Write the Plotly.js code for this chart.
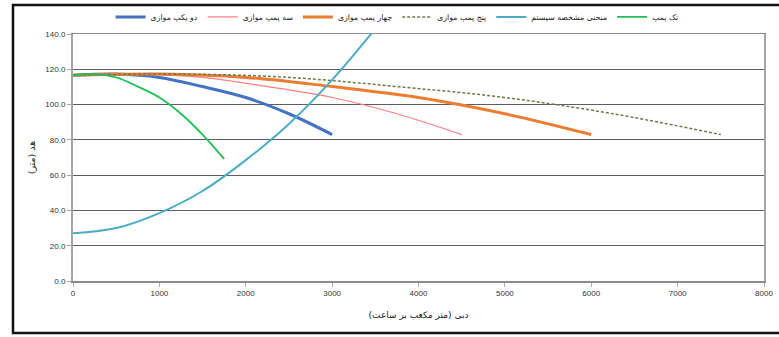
<!DOCTYPE html>
<html>
<head>
<meta charset="utf-8">
<script src="https://cdn.plot.ly/plotly-3.0.1.min.js"></script>
<style>
  html, body { margin: 0; padding: 0; background: #fff; }
  #chart { width: 779px; height: 337px; }
</style>
</head>
<body>
<div id="chart"></div>
<script>
// Pump head curves (head in metres vs. flow in m³/h)
const singleQ = [0, 250, 500, 750, 1000, 1250, 1500, 1750];
const singleH = [116.6, 117.3, 115.4, 110.2, 104.0, 94.8, 83.0, 69.2];

const twoQ = [0, 500, 1000, 1500, 2000, 2500, 3000];
const twoH = [116.6, 117.3, 115.4, 110.2, 104.0, 94.8, 83.0];

const threeQ = [0, 750, 1500, 2250, 3000, 3750, 4500];
const threeH = [116.6, 117.3, 115.4, 110.2, 104.0, 94.8, 83.0];

const fourQ = [0, 1000, 2000, 3000, 4000, 5000, 6000];
const fourH = [116.6, 117.3, 115.4, 110.2, 104.0, 94.8, 83.0];

const fiveQ = [0, 1250, 2500, 3750, 5000, 6250, 7500];
const fiveH = [116.6, 117.3, 115.4, 110.2, 104.0, 94.8, 83.0];

// System characteristic curve
const systemQ = [0, 500, 1000, 1500, 2000, 2500, 3000, 3500];
const systemH = [27.0, 30.0, 38.5, 51.0, 68.5, 89.0, 114.0, 143.0];

// Legend labels
const labelTwo = 'دو یکپ موازی';
const labelThree = 'سه پمپ موازی';
const labelFour = 'چهار پمپ موازی';
const labelFive = 'پنج پمپ موازی';
const labelSystem = 'منحنی مشخصه سیستم';
const labelSingle = 'تک پمپ';

const xTitle = 'دبی (متر مکعب بر ساعت)';
const yTitle = 'هد (متر)';

const xTicks = [0, 1000, 2000, 3000, 4000, 5000, 6000, 7000, 8000];
const yTicks = [0, 20, 40, 60, 80, 100, 120, 140];

const fa = 'DejaVu Sans, sans-serif';

function curve(x, y, name, color, width, dash) {
  return {
    type: 'scatter', mode: 'lines', x: x, y: y, name: name,
    line: { color: color, width: width, dash: dash || 'solid', shape: 'spline', smoothing: 1 },
    hoverinfo: 'skip'
  };
}

const traces = [
  curve(twoQ, twoH, labelTwo, '#4472C4', 3),
  curve(threeQ, threeH, labelThree, '#FF7C80', 1.2),
  curve(fourQ, fourH, labelFour, '#ED7D31', 3),
  curve(fiveQ, fiveH, labelFive, '#6E7A4A', 1.5, '3px,2px'),
  curve(systemQ, systemH, labelSystem, '#4BACC6', 2),
  curve(singleQ, singleH, labelSingle, '#1FBF55', 1.8)
];

const layout = {
  width: 779, height: 337,
  margin: { l: 73, r: 15, t: 34, b: 56, autoexpand: false },
  paper_bgcolor: '#ffffff', plot_bgcolor: '#ffffff',
  showlegend: true,
  legend: {
    orientation: 'h', x: 0.469, xanchor: 'center', y: 1.069, yanchor: 'middle',
    font: { family: fa, size: 7.8, color: '#222' },
    itemwidth: 30, tracegroupgap: 0, bgcolor: 'rgba(0,0,0,0)'
  },
  xaxis: {
    range: [0, 8000], tickvals: xTicks, ticktext: xTicks.map(String),
    showgrid: false, zeroline: false,
    showline: true, linecolor: '#8c8c8c', linewidth: 1.5, mirror: true,
    ticks: 'outside', ticklen: 4, tickcolor: '#b0b0b0', tickwidth: 1,
    tickfont: { family: 'Liberation Sans, sans-serif', size: 8, color: '#333' },
    title: { text: xTitle, font: { family: fa, size: 9, color: '#222' }, standoff: 14 }
  },
  yaxis: {
    range: [0, 140], tickvals: yTicks, ticktext: yTicks.map(v => v.toFixed(1)),
    showgrid: true, gridcolor: '#5e5e5e', gridwidth: 1.2, zeroline: false,
    showline: true, linecolor: '#a6a6a6', linewidth: 2, mirror: true,
    ticks: 'outside', ticklen: 4, tickcolor: '#a6a6a6', tickwidth: 1,
    tickfont: { family: 'Liberation Sans, sans-serif', size: 8, color: '#333' },
    title: { text: yTitle, font: { family: fa, size: 9.5, color: '#222' }, standoff: 8 }
  },
  shapes: [
    // outer chart frame
    { type: 'rect', xref: 'paper', yref: 'paper',
      x0: (13 - 73) / 691, x1: (790 - 73) / 691,
      y0: (281 - 333) / 247, y1: (281 - 5) / 247,
      line: { color: '#111', width: 2.5 }, fillcolor: 'rgba(0,0,0,0)', layer: 'above' }
  ]
};

Plotly.newPlot('chart', traces, layout, { staticPlot: true, displayModeBar: false });
</script>
</body>
</html>
